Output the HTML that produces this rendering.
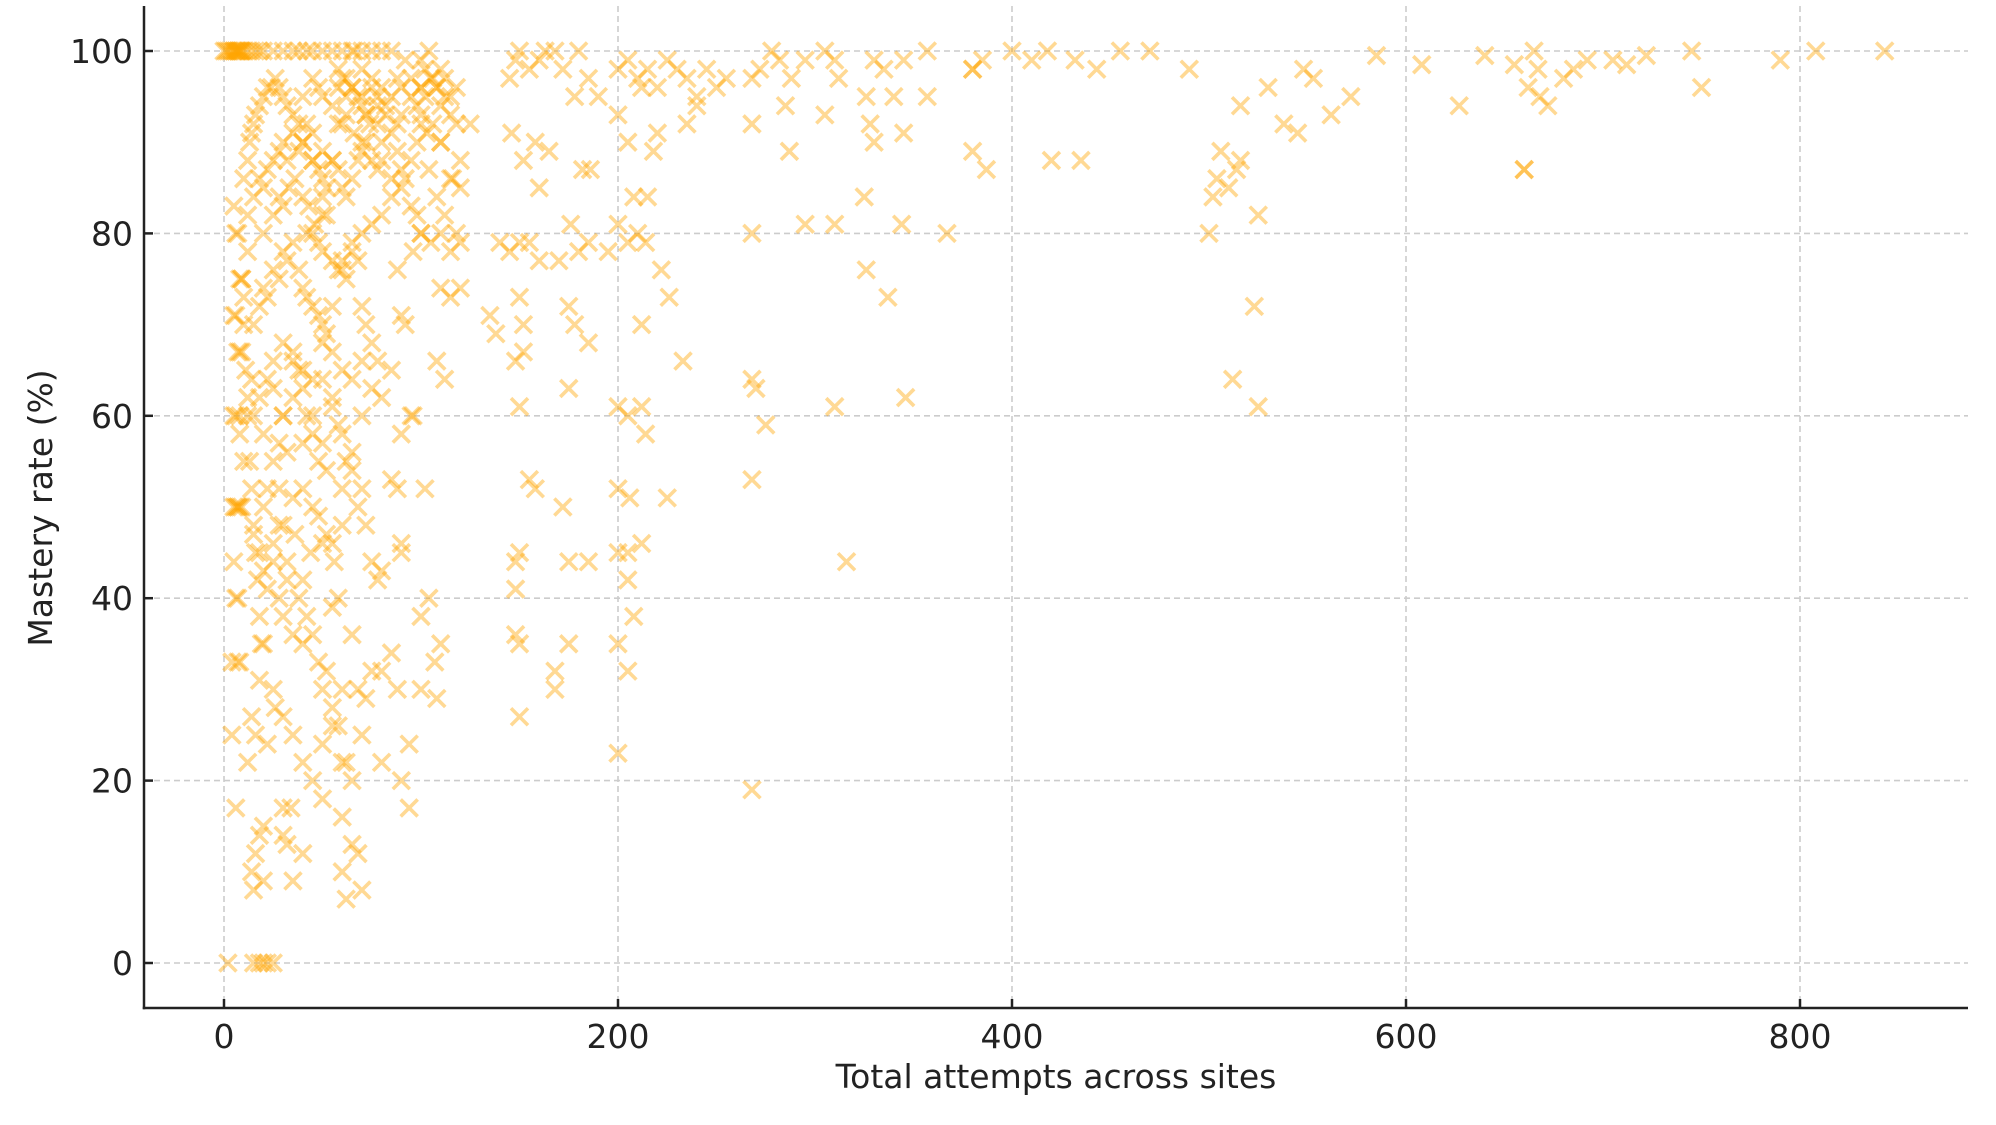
<!DOCTYPE html>
<html><head><meta charset="utf-8"><style>
html,body{margin:0;padding:0;background:#fff;}
svg{display:block;font-family:"DejaVu Sans","Liberation Sans",sans-serif;}
</style></head><body>
<svg id="chart" width="1996" height="1125" viewBox="0 0 1996 1125" xmlns="http://www.w3.org/2000/svg">
<rect width="1996" height="1125" fill="#fff"/>
<g id="grid"></g>
<g id="marks"></g>
<g id="axes"></g>
<text x="1056" y="1088" font-size="33" text-anchor="middle" fill="#222">Total attempts across sites</text>
<text transform="translate(52,508) rotate(-90)" font-size="33" text-anchor="middle" fill="#222">Mastery rate (%)</text>
</svg>
<script>
const xTicks = [0, 200, 400, 600, 800];
const yTicks = [0, 20, 40, 60, 80, 100];
const attempts = [
0,1,2,3,4,5,6,7,8,9,
10,12,14,16,18,20,25,30,35,38,
42,45,50,55,60,65,70,75,80,85,
5,6,7,8,9,5,6,7,8,9,
5,6,7,8,9,5,6,7,8,4,
4,6,7,2,10,8,12,14,10,12,
15,18,20,22,25,15,14,16,18,20,
12,14,16,18,22,26,30,32,35,34,
10,12,13,14,15,16,18,20,22,24,
26,28,30,32,35,38,40,45,48,50,
55,58,60,62,65,68,70,72,75,78,
80,82,85,88,90,92,95,98,100,102,
105,108,110,112,115,118,100,103,106,110,
12,15,18,20,22,25,28,30,32,35,
38,40,42,45,48,50,52,55,58,60,
62,65,68,70,72,75,78,80,85,88,
90,92,95,98,100,105,110,115,118,120,
15,18,20,22,25,28,30,32,35,38,
40,42,45,48,50,52,55,58,60,62,
65,68,70,72,75,78,80,85,90,95,
100,110,115,120,108,112,90,92,96,88,
15,18,20,22,25,28,30,32,35,38,
40,42,45,48,50,52,55,58,60,62,
65,68,70,72,75,78,80,85,88,90,
15,18,20,22,25,28,30,32,35,38,
40,42,45,48,50,52,55,58,60,62,
65,68,70,72,75,80,85,88,90,60,
20,22,25,28,30,35,40,45,50,55,
20,25,30,35,40,45,50,55,60,65,
62,65,68,58,55,45,50,52,48,42,
20,25,28,30,33,36,40,43,46,50,
60,65,70,72,75,78,80,82,85,88,
100,102,104,106,108,110,112,115,118,120,
25,30,35,40,45,50,55,60,65,70,
90,95,100,110,115,125,58,62,66,70,
40,45,50,55,58,62,66,70,74,78,
45,50,55,60,65,70,75,80,85,90,
10,11,12,13,14,15,16,17,18,19,
25,28,32,36,40,44,48,52,56,60,
95,98,100,104,108,112,116,120,96,102,
30,35,40,45,50,55,60,65,70,75,
5,6,7,8,9,5,6,7,8,9,
20,30,40,50,60,70,80,90,100,110,
145,148,150,155,160,163,168,172,180,185,
190,200,205,210,215,220,225,230,235,240,
245,250,255,268,272,278,282,288,295,305,
310,312,330,335,345,357,380,385,400,410,
418,432,443,455,470,490,548,553,585,608,
640,655,665,667,680,685,692,705,712,722,
745,790,808,843,146,152,158,165,160,178,
182,186,200,205,208,212,215,218,220,235,
240,268,285,287,305,326,328,330,340,345,
357,380,387,420,435,516,530,538,545,562,
572,627,660,662,668,672,500,502,504,506,
510,514,516,525,523,512,525,140,145,150,
155,160,170,176,180,185,195,200,205,210,
214,222,226,233,268,295,310,325,326,337,
344,367,135,138,150,152,148,152,150,175,
178,185,175,200,205,212,212,214,268,270,
275,310,346,155,158,172,200,206,225,268,
148,150,148,175,185,200,205,205,212,208,
148,150,168,168,175,200,205,150,200,268,
316,107,108,104,100,94,94,750,660,380
];
const mastery = [
100,100,100,100,100,100,100,100,100,100,
100,100,100,100,100,100,100,100,100,100,
100,100,100,100,100,100,100,100,100,100,
83,80,80,75,75,71,71,67,67,67,
60,60,50,50,50,44,40,33,33,33,
25,17,40,0,55,58,62,64,73,78,
0,0,0,0,0,8,10,12,14,9,
22,27,25,31,24,28,14,13,9,17,
86,88,90,91,92,93,94,95,96,96,
97,96,95,94,93,92,95,97,96,95,
94,96,97,95,96,95,94,93,96,95,
96,94,95,97,96,99,97,94,96,95,
97,96,94,97,95,96,93,91,92,90,
82,84,86,85,87,88,89,90,88,91,
89,90,92,88,87,86,85,88,87,85,
84,86,88,89,90,88,87,88,86,89,
87,86,83,82,80,79,80,78,80,79,
70,72,74,73,76,75,78,77,79,76,
74,73,72,71,70,69,72,76,77,75,
78,77,72,70,68,66,62,65,58,60,
80,74,73,74,66,64,71,70,78,76,
60,62,58,64,63,57,60,56,66,65,
63,60,58,55,57,54,62,59,52,55,
54,50,52,48,44,42,43,53,52,46,
47,45,43,41,44,40,38,42,36,40,
35,38,36,33,30,32,28,26,30,22,
36,30,25,29,32,32,34,30,45,16,
50,52,55,52,48,51,52,50,46,46,
35,30,27,25,22,20,24,26,22,20,
7,13,12,40,39,88,84,82,79,80,
80,82,84,83,85,86,84,83,81,82,
92,96,95,93,97,92,90,93,91,92,
99,98,100,97,96,98,95,93,92,88,
66,68,67,65,64,68,67,65,64,66,
93,95,96,90,86,92,98,97,100,98,
90,91,89,88,92,93,91,90,92,94,
80,78,77,76,79,80,81,82,84,85,
70,65,60,55,52,48,45,42,38,35,
46,48,44,47,42,45,49,47,44,48,
88,90,92,87,84,82,86,85,60,52,
60,62,57,60,64,61,58,56,60,63,
100,100,100,100,100,50,50,50,60,75,
15,17,12,18,10,8,22,20,30,35,
97,99,100,98,99,100,100,98,100,97,
95,98,99,97,98,96,99,98,97,95,
98,96,97,97,98,100,99,97,99,100,
99,97,99,98,99,100,98,99,100,99,
100,99,98,100,100,98,98,97,99.5,98.5,
99.5,98.5,100,98,97,98,99,99,98.5,99.5,
100,99,100,100,91,88,90,89,85,95,
87,87,93,90,84,96,84,89,91,92,
94,92,94,89,93,95,92,90,95,91,
95,89,87,88,88,94,96,92,91,93,
95,94,87,96,95,94,80,84,86,89,
85,87,88,82,72,64,61,79,78,79,
79,77,77,81,78,79,78,81,79,80,
79,76,73,66,80,81,81,84,76,73,
81,80,71,69,73,70,66,67,61,72,
70,68,63,61,60,70,61,58,64,63,
59,61,62,53,52,50,52,51,51,53,
44,45,41,44,44,45,45,42,46,38,
36,35,32,30,35,35,32,27,23,19,
44,33,29,40,38,24,17,96,87,98
];

const NS = 'http://www.w3.org/2000/svg';
const X0 = 224, XPER = 1576 / 800;
const Y0 = 963, YPER = 912 / 100;
function xScale(v) { return X0 + v * XPER; }
function yScale(v) { return Y0 - v * YPER; }
function mk(tag, attrs, parent) {
  const e = document.createElementNS(NS, tag);
  for (const k in attrs) e.setAttribute(k, attrs[k]);
  parent.appendChild(e);
  return e;
}
const grid = document.getElementById('grid');
const axes = document.getElementById('axes');
const marks = document.getElementById('marks');
const L = 144, R = 1968, T = 6, B = 1008;

xTicks.forEach(function (t) {
  const x = xScale(t);
  const g = mk('line', {x1: x, x2: x, y1: T, y2: B, stroke: '#cccccc', 'stroke-width': 1.6, 'stroke-dasharray': '6,4'}, grid);
  
  
  const tk = mk('line', {x1: x, x2: x, y1: B, y2: B - 9, stroke: '#222', 'stroke-width': 2.5}, axes);
  
  
  const lb = mk('text', {x: x, y: B + 40, 'font-size': 33, 'text-anchor': 'middle', fill: '#222'}, axes);
  lb.textContent = String(t);
  
  
});
yTicks.forEach(function (t) {
  const y = yScale(t);
  const g = mk('line', {x1: L, x2: R, y1: y, y2: y, stroke: '#cccccc', 'stroke-width': 1.6, 'stroke-dasharray': '6,4'}, grid);
  
  
  const tk = mk('line', {x1: L, x2: L + 9, y1: y, y2: y, stroke: '#222', 'stroke-width': 2.5}, axes);
  
  
  const lb = mk('text', {x: 133, y: y + 12, 'font-size': 33, 'text-anchor': 'end', fill: '#222'}, axes);
  lb.textContent = String(t);
  
  
});
const ls = mk('line', {x1: L, x2: L, y1: T, y2: B + 1.25, stroke: '#222', 'stroke-width': 2.5}, axes);


const bs = mk('line', {x1: L - 1.25, x2: R, y1: B, y2: B, stroke: '#222', 'stroke-width': 2.5}, axes);



const S = 8.5;
for (let i = 0; i < attempts.length; i++) {
  const cx = xScale(attempts[i]), cy = yScale(mastery[i]);
  const p = mk('path', {d: 'M' + (cx - S) + ' ' + (cy - S) + 'L' + (cx + S) + ' ' + (cy + S) + 'M' + (cx - S) + ' ' + (cy + S) + 'L' + (cx + S) + ' ' + (cy - S),
    stroke: '#FFA500', 'stroke-opacity': 0.42, 'stroke-width': 3.6, fill: 'none'}, marks);
  
  
}
</script>
</body></html>
